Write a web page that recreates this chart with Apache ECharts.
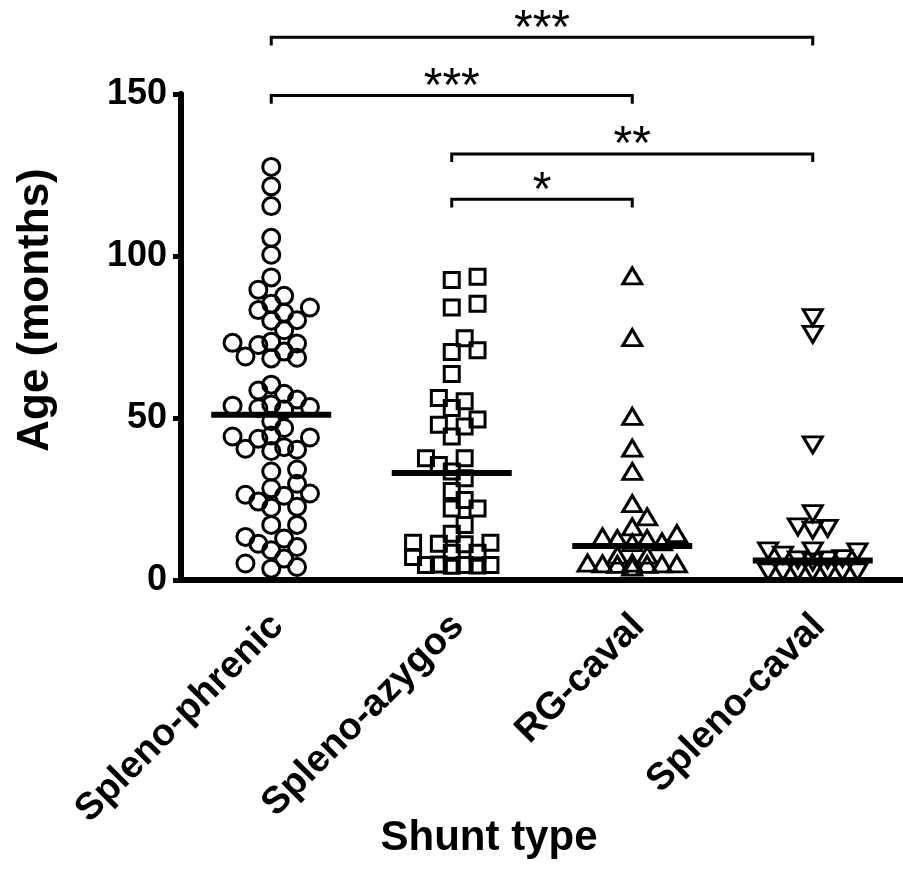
<!DOCTYPE html>
<html>
<head>
<meta charset="utf-8">
<script src="https://cdn.jsdelivr.net/npm/echarts@6/dist/echarts.min.js"></script>
<style>
  html, body { margin: 0; padding: 0; background: #fff; }
  #chart { width: 903px; height: 884px; }
</style>
</head>
<body>
<div id="chart"></div>
<script>
// data (age in months)
const categories = ['Spleno-phrenic', 'Spleno-azygos', 'RG-caval', 'Spleno-caval'];

const splenoPhrenic = [127.5, 121.5, 115.4, 105.6, 100.4, 93.4, 89.6, 87.7, 85.3, 84.1, 83.3, 82.5, 80.2, 80.0, 77.1,
    73.5, 73.2, 73.0, 72.5, 70.5, 69.0, 68.6, 68.4, 60.3, 58.5, 57.5, 55.7, 54.2, 53.8, 53.4, 53.0, 52.6,
    49.0, 46.9, 44.6, 44.3, 44.0, 43.6, 41.0, 40.5, 40.2, 39.8, 34.1, 33.5, 29.7, 28.3, 26.7, 26.3, 26.0,
    24.2, 22.6, 22.3, 17.0, 17.0, 13.3, 12.8, 11.2, 10.2, 9.2, 6.6, 5.1, 4.0, 3.5];
const splenoAzygos = [93.6, 92.6, 85.3, 84.1, 74.6, 70.9, 70.4, 63.6, 56.2, 55.2, 53.1, 49.5, 47.9, 47.4, 44.3,
    37.6, 37.6, 35.5, 33.5, 31.4, 27.5, 24.7, 22.1, 22.1, 17.0, 14.3, 11.5, 11.5, 11.2, 11.0, 8.4, 8.4,
    7.1, 4.8, 4.6, 4.6, 4.5, 4.4, 4.6];
const rgCaval = [93.9, 74.8, 50.5, 40.7, 33.5, 23.6, 19.5, 16.4, 14.3, 13.3, 12.8, 12.8, 11.8, 11.5, 7.7, 7.7,
    5.2, 5.0, 5.0, 4.8, 5.0, 5.2, 4.8, 4.0];
const splenoCaval = [81.0, 75.8, 41.7, 20.5, 16.4, 15.9, 15.4, 9.0, 9.0, 8.7, 7.7, 6.6, 6.2, 6.2, 5.6,
    2.5, 2.5, 2.5, 2.5, 2.5, 2.5, 2.5];
const centerLines = [51, 33, 10.5, 6];

// significance brackets: [from group, to group], height, stars
const comparisons = [[0, 3], [0, 2], [1, 3], [1, 2]];
const bracketLevels = [167.5, 149.5, 131.5, 117.5];
const bracketLabels = ['***', '***', '**', '*'];

const groups = [splenoPhrenic, splenoAzygos, rgCaval, splenoCaval];

const GRID = { left: 181, top: 94, width: 728, height: 486 };
const pxPerY = GRID.height / 150;
const pxPerCat = GRID.width / categories.length;

// simple beeswarm, at most 3 steps either side of the centre
function swarm(values, step, minDist) {
    const placed = [];
    values.slice().sort((a, b) => a - b).forEach(v => {
        const py = v * pxPerY;
        let best = null, bestD = -1;
        for (let k = 0; k <= 6; k++) {
            const dx = (k % 2 === 1 ? 1 : -1) * Math.ceil(k / 2) * step;
            let dmin = Infinity;
            placed.forEach(p => {
                const ddx = p[0] - dx, ddy = p[1] - py;
                dmin = Math.min(dmin, Math.sqrt(ddx * ddx + ddy * ddy));
            });
            if (dmin >= minDist) { best = dx; break; }
            if (dmin > bestD) { bestD = dmin; best = dx; }
        }
        placed.push([best, py, v]);
    });
    return placed.map(p => [p[0] / pxPerCat, p[2]]);
}

const shapes = [
    { symbol: 'circle', size: 17, rotate: 0, step: 13 },
    { symbol: 'rect', size: 15, rotate: 0, step: 13 },
    { symbol: 'triangle', size: [19, 16], rotate: 0, step: 15 },
    { symbol: 'triangle', size: [19, 16], rotate: 180, step: 15 }
];

const fontMain = '"Liberation Sans", Arial, sans-serif';

const series = [];
groups.forEach((vals, i) => {
    series.push({
        type: 'scatter',
        xAxisIndex: 1,
        symbol: shapes[i].symbol,
        symbolSize: shapes[i].size,
        symbolRotate: shapes[i].rotate,
        itemStyle: { color: 'rgba(0,0,0,0)', borderColor: '#000', borderWidth: 3, opacity: 1 },
        emphasis: { disabled: true },
        data: swarm(vals, shapes[i].step, 14).map(p => [i + p[0], p[1]])
    });
});

// mean lines
series.push({
    type: 'scatter',
    xAxisIndex: 1,
    symbol: 'rect',
    symbolSize: [120, 6],
    itemStyle: { color: '#000', opacity: 1 },
    z: 5,
    data: centerLines.map((v, i) => [i, v])
});

// brackets
series.push({
    type: 'lines',
    coordinateSystem: 'cartesian2d',
    xAxisIndex: 1,
    polyline: true,
    clip: false,
    silent: true,
    lineStyle: { color: '#000', width: 3, opacity: 1 },
    data: comparisons.map((c, i) => {
        const lv = bracketLevels[i];
        return { coords: [[c[0], lv - 2.5], [c[0], lv], [c[1], lv], [c[1], lv - 2.5]] };
    })
});

// stars
series.push({
    type: 'scatter',
    xAxisIndex: 1,
    symbolSize: 0,
    clip: false,
    silent: true,
    itemStyle: { opacity: 1 },
    label: {
        show: true,
        position: 'inside',
        offset: [0, -8],
        color: '#000',
        fontFamily: fontMain,
        fontSize: 48,
        formatter: p => p.name
    },
    data: comparisons.map((c, i) => ({ name: bracketLabels[i], value: [(c[0] + c[1]) / 2, bracketLevels[i]] }))
});

const chart = echarts.init(document.getElementById('chart'));
chart.setOption({
    backgroundColor: '#fff',
    animation: false,
    grid: GRID,
    xAxis: [{
        type: 'category',
        data: categories,
        boundaryGap: true,
        axisLine: { lineStyle: { color: '#000', width: 6 } },
        axisTick: { alignWithLabel: true, length: 8, lineStyle: { color: '#000', width: 5 } },
        axisLabel: {
            interval: 0,
            rotate: 45,
            margin: 20,
            align: 'right',
            verticalAlign: 'top',
            padding: [0, 10, 0, 0],
            color: '#000',
            fontFamily: fontMain,
            fontWeight: 'bold',
            fontSize: 38
        },
        splitLine: { show: false }
    }, {
        type: 'value',
        min: -0.5,
        max: 3.5,
        show: false
    }],
    yAxis: {
        type: 'value',
        min: 0,
        max: 150,
        interval: 50,
        axisLine: { show: true, onZero: false, lineStyle: { color: '#000', width: 6 } },
        axisTick: { show: true, length: 8, lineStyle: { color: '#000', width: 5 } },
        axisLabel: {
            margin: 14,
            color: '#000',
            fontFamily: fontMain,
            fontWeight: 'bold',
            fontSize: 36
        },
        splitLine: { show: false }
    },
    graphic: [{
        type: 'text',
        x: 36,
        y: 310,
        rotation: Math.PI / 2,
        style: {
            text: 'Age (months)',
            align: 'center',
            verticalAlign: 'middle',
            fill: '#000',
            font: 'bold 44px "Liberation Sans", Arial, sans-serif'
        }
    }, {
        type: 'text',
        x: 489,
        y: 838,
        style: {
            text: 'Shunt type',
            align: 'center',
            verticalAlign: 'middle',
            fill: '#000',
            font: 'bold 42px "Liberation Sans", Arial, sans-serif'
        }
    }],
    series: series
});
</script>
</body>
</html>
